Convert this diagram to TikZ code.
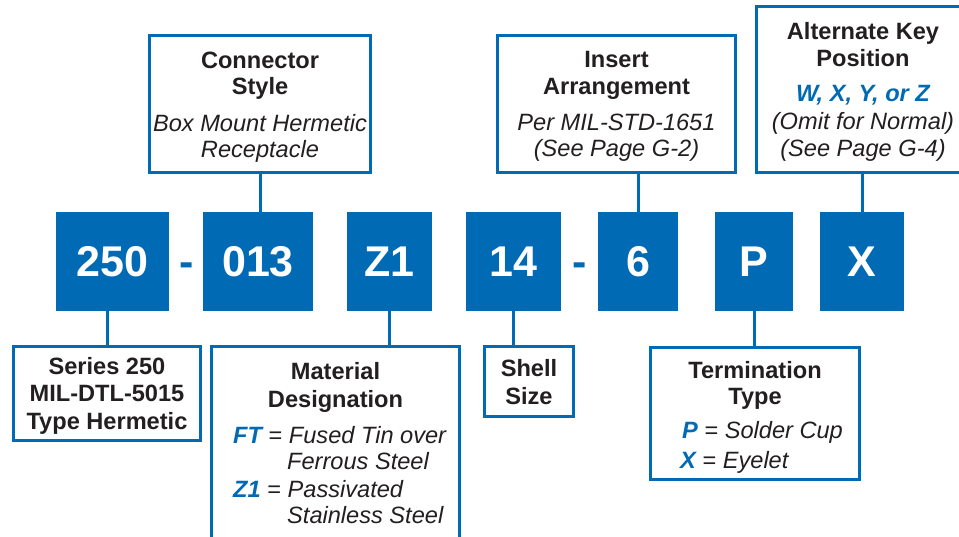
\documentclass[tikz,border=0pt]{standalone}
\usepackage{fontspec}
\setmainfont{Liberation Sans}
\definecolor{pblue}{RGB}{0,106,180}
\definecolor{ink}{RGB}{35,31,32}
\newcommand{\txtfont}{\fontsize{23.6}{26}\selectfont}
\begin{document}
\begin{tikzpicture}[x=1pt,y=-1pt,
  box/.style={draw=pblue, line width=3pt, fill=white, inner sep=0pt, outer sep=0pt, anchor=north west},
  code/.style={fill=pblue, text=white, inner sep=0pt, outer sep=0pt, anchor=north west,
    minimum height=99pt, font=\fontsize{43}{48}\selectfont\bfseries},
  dashtxt/.style={text=pblue, font=\fontsize{43}{48}\selectfont\bfseries, anchor=base, inner sep=0pt},
  ttl/.style={text=ink, font=\txtfont\bfseries, anchor=base, inner sep=0pt},
  dsc/.style={text=ink, font=\txtfont\itshape, anchor=base, inner sep=0pt},
  dscw/.style={text=ink, font=\txtfont\itshape, anchor=base west, inner sep=0pt},
  keyl/.style={text=pblue, font=\txtfont\bfseries\itshape, anchor=base, inner sep=0pt},
  link/.style={draw=pblue, line width=3pt}]
\useasboundingbox (0,0) rectangle (959,537);
\clip (0,0) rectangle (959,537);

% code boxes
\node[code, minimum width=113pt] (b250) at (56,212) {250};
\node[code, minimum width=110pt] (b013) at (203,212) {013};
\node[code, minimum width=85pt]  (bZ1)  at (347,212) {Z1};
\node[code, minimum width=95pt]  (b14)  at (466,212) {14};
\node[code, minimum width=80pt]  (b6)   at (598,212) {6};
\node[code, minimum width=78pt]  (bP)   at (715,212) {P};
\node[code, minimum width=84pt]  (bX)   at (820,212) {X};
\node[dashtxt] (d1) at (186.5,277) {-};
\node[dashtxt] (d2) at (579.5,277) {-};

% description boxes
\node[box, minimum width=221pt, minimum height=137pt] (cs)   at (149.5,35.5) {};
\node[box, minimum width=238pt, minimum height=137pt] (ins)  at (497.5,35.5) {};
\node[box, minimum width=218.5pt, minimum height=166pt] (alt) at (756.5,6.5) {};
\node[box, minimum width=187pt, minimum height=94pt]  (ser)  at (13.5,346.5) {};
\node[box, minimum width=248pt, minimum height=214pt] (mat)  at (211.5,346.5) {};
\node[box, minimum width=89pt,  minimum height=70pt]  (shl)  at (484.5,346.5) {};
\node[box, minimum width=209pt, minimum height=132pt] (ter)  at (650.5,347.5) {};

% connectors
\draw[link] (b013.north -| cs.south) -- (cs.south);
\draw[link] (bX.north) -- (bX.north |- alt.south);
\draw[link] (b6.north) -- (b6.north |- ins.south);
\draw[link] (ser.north) -- (ser.north |- b250.south);
\draw[link] (bZ1.south) -- (bZ1.south |- mat.north);
\draw[link] (b14.south) -- (b14.south |- shl.north);
\draw[link] (bP.south) -- (bP.south |- ter.north);

% texts: connector style
\node[ttl] (cs1) at (260,69) {Connector};
\node[ttl] (cs2) at (260,95) {Style};
\node[dsc] (cs3) at (260,132) {Box Mount Hermetic};
\node[dsc] (cs4) at (260,158) {Receptacle};
% insert arrangement
\node[ttl] (in1) at (616.5,68) {Insert};
\node[ttl] (in2) at (616.5,95) {Arrangement};
\node[dsc] (in3) at (616.5,131) {Per MIL-STD-1651};
\node[dsc] (in4) at (616.5,157) {(See Page G-2)};
% alternate key
\node[ttl] (al1) at (863,40) {Alternate Key};
\node[ttl] (al2) at (863,67) {Position};
\node[keyl] (al3) at (863,102) {W, X, Y, or Z};
\node[dsc] (al4) at (863,130) {(Omit for Normal)};
\node[dsc] (al5) at (863,157) {(See Page G-4)};
% series
\node[ttl] (se1) at (107,375) {Series 250};
\node[ttl] (se2) at (107,402) {MIL-DTL-5015};
\node[ttl] (se3) at (107,429) {Type Hermetic};
% material
\node[ttl] (ma1) at (335.5,380) {Material};
\node[ttl] (ma2) at (335.5,407) {Designation};
\node[dscw] (ma3) at (233,443) {{\color{pblue}\bfseries FT} {\upshape=} Fused Tin over};
\node[dscw] (ma4) at (287,469) {Ferrous Steel};
\node[dscw] (ma5) at (233,497) {{\color{pblue}\bfseries Z1} {\upshape=} Passivated};
\node[dscw] (ma6) at (287,523) {Stainless Steel};
% shell
\node[ttl] (sh1) at (529,377) {Shell};
\node[ttl] (sh2) at (529,404) {Size};
% termination
\node[ttl] (te1) at (755,378) {Termination};
\node[ttl] (te2) at (755,405) {Type};
\node[dscw] (te3) at (682,438) {{\color{pblue}\bfseries P} {\upshape=} Solder Cup};
\node[dscw] (te4) at (680,468) {{\color{pblue}\bfseries X} {\upshape=} Eyelet};
\end{tikzpicture}
\end{document}
